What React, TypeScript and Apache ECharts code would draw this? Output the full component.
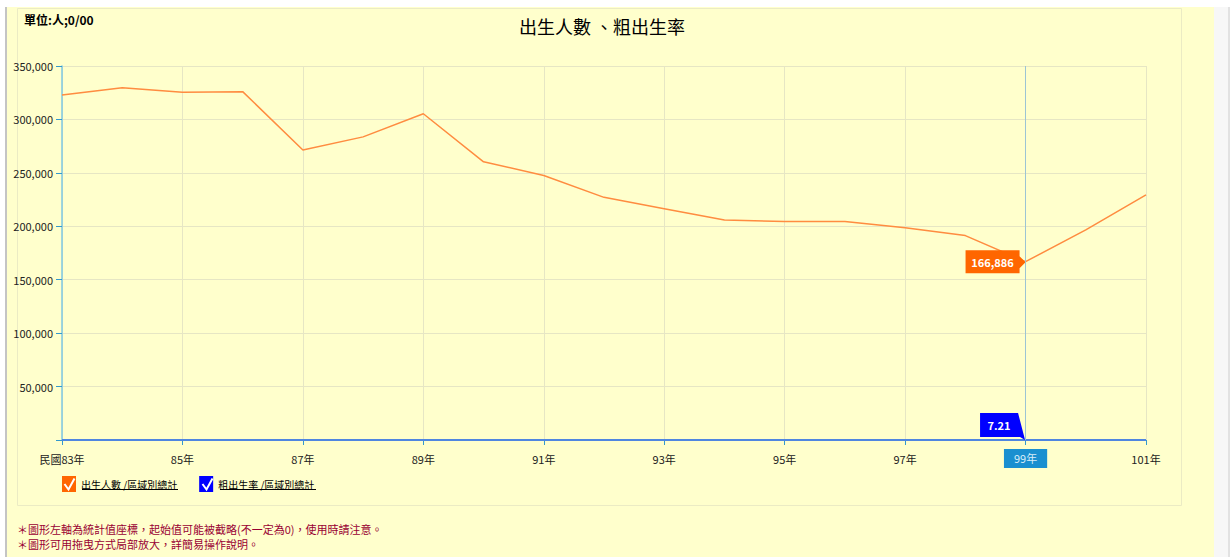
import React, { useEffect, useRef } from "react";
import * as echarts from "echarts";

const years = ["83年", "84年", "85年", "86年", "87年", "88年", "89年", "90年", "91年", "92年", "93年", "94年", "95年", "96年", "97年", "98年", "99年", "100年", "101年"];
const births = [322938, 329581, 325545, 326002, 271450, 283661, 305312, 260354, 247530, 227070, 216419, 205854, 204459, 204414, 198733, 191310, 166886, 196627, 229481];
const rates = [15.31, 15.5, 15.18, 15.07, 12.43, 12.89, 13.76, 11.65, 11.02, 10.06, 9.56, 9.06, 8.96, 8.92, 8.64, 8.29, 7.21, 8.48, 9.86];
const seriesNames = ["出生人數 /區域別總計", "粗出生率 /區域別總計"];
const highlightIndex = 16;
const titleText = "出生人數 、粗出生率";
const unitText = "單位:人;0/00";
const notes = [
  "＊圖形左軸為統計值座標，起始值可能被截略(不一定為0)，使用時請注意。",
  "＊圖形可用拖曳方式局部放大，詳簡易操作說明。",
];

const fmt = (v: number) => v.toLocaleString("en-US");

export default function App() {
  const ref = useRef<HTMLDivElement>(null);
  useEffect(() => {
    if (!ref.current) return;
    const chart = echarts.init(ref.current, undefined, { renderer: "svg" });
    const font = "'Noto Sans CJK TC', 'Noto Sans', sans-serif";
    chart.setOption({
      animation: false,
      backgroundColor: "#FFFFCC",
      textStyle: { fontFamily: font },
      title: [
        { text: titleText, left: 514, top: 12, padding: 5, textStyle: { fontSize: 18, fontWeight: "normal", color: "#000", fontFamily: font } },
        { text: unitText, left: 19, top: 8, padding: 5, textStyle: { fontSize: 12, fontWeight: "bold", color: "#000", fontFamily: font } },
      ],
      legend: {
        left: 62,
        top: 476,
        padding: 0,
        itemWidth: 14,
        itemHeight: 16,
        itemGap: 22,
        selectedMode: false,
        textStyle: { fontSize: 10, color: "#000", fontFamily: font },
        data: [
          { name: seriesNames[0], icon: "rect", itemStyle: { color: "#FF6600" } },
          { name: seriesNames[1], icon: "rect", itemStyle: { color: "#0000FF" } },
        ],
      },
      grid: { left: 62, right: 84, top: 66, bottom: 117, containLabel: false },
      xAxis: {
        type: "category",
        data: years,
        boundaryGap: false,
        axisLine: { show: true, lineStyle: { color: "#5b8fd8", width: 1 } },
        axisTick: { show: true, interval: 1, length: 5, lineStyle: { color: "#3399cc" } },
        axisLabel: {
          interval: 1,
          fontSize: 11,
          color: "#222",
          margin: 13,
          fontFamily: font,
          formatter: (v: string, i: number) => (i === 0 ? "民國" + v : v),
        },
        splitLine: { show: true, interval: 1, lineStyle: { color: "#e6e6c4" } },
        axisPointer: {
          show: true,
          type: "line",
          value: years[highlightIndex],
          status: "show",
          snap: true,
          triggerTooltip: false,
          lineStyle: { color: "#9cc4d4", width: 1, type: "solid" },
          label: {
            show: true,
            backgroundColor: "#1a8fd0",
            borderRadius: 0,
            color: "#d6ecf8",
            fontSize: 11,
            padding: [4, 10, 4, 10],
            margin: 9,
            fontFamily: font,
          },
        },
      },
      yAxis: {
        type: "value",
        min: 0,
        max: 350000,
        interval: 50000,
        axisLine: { show: true, lineStyle: { color: "#7ec8e3", width: 1.5 } },
        axisTick: { show: true, length: 6, lineStyle: { color: "#3399cc" } },
        axisLabel: {
          fontSize: 11,
          color: "#222",
          margin: 9,
          fontFamily: font,
          formatter: (v: number) => (v === 0 ? "" : fmt(v)),
        },
        splitLine: { show: true, lineStyle: { color: "#e6e6c4" } },
      },
      series: [
        {
          name: seriesNames[0],
          type: "line",
          data: births,
          showSymbol: false,
          symbol: "none",
          lineStyle: { color: "#ff8c40", width: 1.5 },
          itemStyle: { color: "#ff8c40" },
          z: 3,
          markPoint: {
            symbol: "path://M0,0L54,0L54,6L60,12L54,18L54,23L0,23Z",
            symbolSize: [60, 23],
            symbolOffset: [-30, 0],
            itemStyle: { color: "#FF6600" },
            label: {
              show: true,
              position: "inside",
              offset: [-3, 0],
              color: "#fff",
              fontSize: 11,
              fontWeight: "bold",
              fontFamily: font,
              formatter: (p: any) => fmt(p.value),
            },
            data: [{ coord: [years[highlightIndex], births[highlightIndex]], value: births[highlightIndex] }],
          },
        },
        {
          name: seriesNames[1],
          type: "line",
          data: rates,
          showSymbol: false,
          symbol: "none",
          lineStyle: { color: "#4f86e0", width: 2 },
          itemStyle: { color: "#4f86e0" },
          z: 4,
          markPoint: {
            symbol: "path://M0,0L38,0L45,27L40,24L0,24Z",
            symbolSize: [45, 27],
            symbolOffset: [-23, -13.5],
            itemStyle: { color: "#0000FF" },
            label: {
              show: true,
              position: "inside",
              offset: [-3.5, -1.5],
              color: "#fff",
              fontSize: 11,
              fontWeight: "bold",
              fontFamily: font,
              formatter: (p: any) => String(p.value),
            },
            data: [{ coord: [years[highlightIndex], rates[highlightIndex]], value: rates[highlightIndex] }],
          },
        },
      ],
      graphic: [
        { type: "rect", left: 0, top: 0, shape: { width: 1230, height: 7 }, style: { fill: "#ffffff" }, z: -10, silent: true },
        { type: "rect", left: 0, top: 7, shape: { width: 5, height: 550 }, style: { fill: "#ffffff" }, z: -10, silent: true },
        { type: "rect", left: 5, top: 7, shape: { width: 2, height: 550 }, style: { fill: "#c4c4c4" }, z: -10, silent: true },
        { type: "rect", left: 1214, top: 7, shape: { width: 16, height: 550 }, style: { fill: "#f7f7f7" }, z: -10, silent: true },
        { type: "rect", left: 1228, top: 7, shape: { width: 2, height: 550 }, style: { fill: "#e2e2e2" }, z: -10, silent: true },
        { type: "rect", shape: { x: 17.5, y: 8.5, width: 1164, height: 497 }, style: { fill: "none", stroke: "#ebebc4", lineWidth: 1 }, z: -9, silent: true },
        { type: "polyline", shape: { points: [[64.5, 484], [68.5, 489.5], [74.5, 478.5]] }, style: { stroke: "#ffffff", lineWidth: 2, fill: "none" }, z: 100, silent: true },
        { type: "polyline", shape: { points: [[202.5, 484], [206.5, 489.5], [212.5, 478.5]] }, style: { stroke: "#ffffff", lineWidth: 2, fill: "none" }, z: 100, silent: true },
        { type: "line", shape: { x1: 82, y1: 489.5, x2: 178, y2: 489.5 }, style: { stroke: "#000", lineWidth: 1 }, z: 100, silent: true },
        { type: "line", shape: { x1: 220, y1: 489.5, x2: 316, y2: 489.5 }, style: { stroke: "#000", lineWidth: 1 }, z: 100, silent: true },
        { type: "text", left: 17, top: 523, style: { text: notes[0], fill: "#990033", fontSize: 11, fontFamily: font }, silent: true },
        { type: "text", left: 17, top: 538, style: { text: notes[1], fill: "#990033", fontSize: 11, fontFamily: font }, silent: true },
      ],
    });
    return () => chart.dispose();
  }, []);
  return <div ref={ref} style={{ position: "fixed", left: 0, top: 0, width: 1230, height: 557 }} />;
}
